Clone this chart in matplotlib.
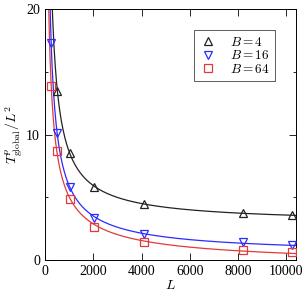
import numpy as np
import matplotlib
matplotlib.use("Agg")
import matplotlib.pyplot as plt
from matplotlib.ticker import MultipleLocator

# data
L_b4 = [512, 1024, 2048, 4096, 8192, 10240]
T_b4 = [13.5, 8.55, 5.84, 4.43, 3.77, 3.56]

L_b16 = [256, 512, 1024, 2048, 4096, 8192, 10240]
T_b16 = [17.3, 10.1, 5.84, 3.32, 2.05, 1.43, 1.17]

L_b64 = [256, 512, 1024, 2048, 4096, 8192, 10240]
T_b64 = [13.9, 8.7, 4.86, 2.6, 1.43, 0.80, 0.64]

labels = [r"$B = 4$", r"$B = 16$", r"$B = 64$"]

plt.rcParams["font.family"] = "serif"
plt.rcParams["font.serif"] = ["Liberation Serif", "DejaVu Serif"]
plt.rcParams["mathtext.fontset"] = "cm"


def fit_curve(L, T):
    # least squares fit of T = a + b * L**(-c), c found by a grid scan
    L = np.asarray(L, float)
    T = np.asarray(T, float)
    best = None
    for c in np.linspace(0.3, 2.0, 341):
        A = np.column_stack([np.ones_like(L), L ** (-c)])
        coef, res, *_ = np.linalg.lstsq(A, T, rcond=None)
        err = np.sum((A @ coef - T) ** 2)
        if best is None or err < best[0]:
            best = (err, coef, c)
    _, (a, b), c = best
    xs = np.linspace(150, 10400, 600)
    return xs, a + b * xs ** (-c)


fig = plt.figure(figsize=(3.08, 3.02), dpi=100)
ax = fig.add_axes([0.146, 0.139, 0.815, 0.831])

series = [
    (L_b4, T_b4, "#222222", "^"),
    (L_b16, T_b16, "#2b2bff", "v"),
    (L_b64, T_b64, "#e03a3a", "s"),
]
for (L, T, col, mk), lab in zip(series, labels):
    xs, ys = fit_curve(L, T)
    ax.plot(xs, ys, color=col, lw=0.9, zorder=2)
    ax.plot(L, T, linestyle="none", marker=mk, markersize=5.5,
            markerfacecolor="none", markeredgecolor=col, markeredgewidth=0.9,
            label=lab, zorder=3)

ax.set_xlim(0, 10400)
ax.set_ylim(0, 20)
ax.set_xticks([0, 2000, 4000, 6000, 8000, 10000])
ax.yaxis.set_major_locator(MultipleLocator(10))
ax.yaxis.set_minor_locator(MultipleLocator(5))
ax.tick_params(which="both", direction="in", top=True, right=True,
               labelsize=10, width=0.6)
ax.tick_params(which="major", length=5)
ax.tick_params(which="minor", length=2.5)
for sp in ax.spines.values():
    sp.set_linewidth(0.7)

ax.set_xlabel(r"$L$", fontsize=10, labelpad=1)
ax.set_ylabel(r"$T^{p}_{\rm global}/L^2$", fontsize=10, labelpad=1)

leg = ax.legend(loc="upper right", bbox_to_anchor=(0.915, 0.915), fontsize=9.5,
                frameon=True, fancybox=False, edgecolor="#333333",
                handlelength=1.4, handletextpad=0.9, borderpad=0.4,
                labelspacing=0.05, borderaxespad=0)
leg.get_frame().set_linewidth(0.7)

fig.savefig("out.png", dpi=100)
